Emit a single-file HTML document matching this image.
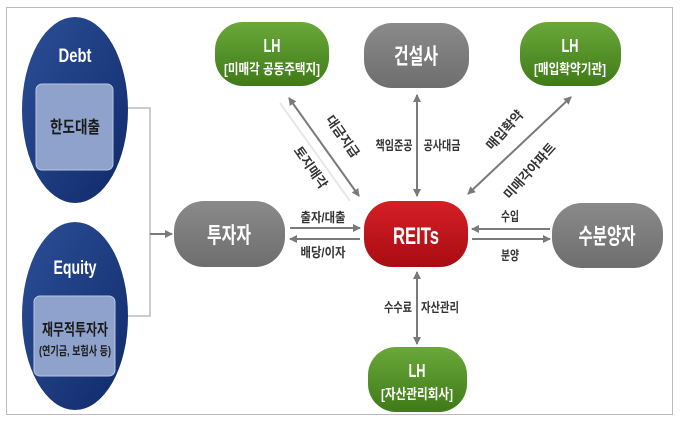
<!DOCTYPE html>
<html><head><meta charset="utf-8"><style>
body{margin:0;background:#fff;}
svg text{font-family:"Liberation Sans","Noto Sans CJK KR",sans-serif;font-weight:bold;}
</style></head><body>
<svg width="680" height="422" viewBox="0 0 680 422" xmlns="http://www.w3.org/2000/svg">
<defs>
<linearGradient id="nv" x1="0" y1="0" x2="1" y2="1"><stop offset="0" stop-color="#2c4f98"/><stop offset="1" stop-color="#102a6a"/></linearGradient>
<linearGradient id="gr" x1="0" y1="0" x2="0" y2="1"><stop offset="0" stop-color="#8a8a8a"/><stop offset="1" stop-color="#6e6e6e"/></linearGradient>
<linearGradient id="gn" x1="0" y1="0" x2="0" y2="1"><stop offset="0" stop-color="#6aa83a"/><stop offset="1" stop-color="#3f7a18"/></linearGradient>
<linearGradient id="rd" x1="0" y1="0" x2="0" y2="1"><stop offset="0" stop-color="#d42026"/><stop offset="1" stop-color="#a80c12"/></linearGradient>
<marker id="ah" markerWidth="8" markerHeight="8" refX="7" refY="4" orient="auto" markerUnits="userSpaceOnUse"><path d="M0,0 L8,4 L0,8 z" fill="#7a7a7a"/></marker>
<marker id="as" markerWidth="8" markerHeight="8" refX="1" refY="4" orient="auto" markerUnits="userSpaceOnUse"><path d="M8,0 L0,4 L8,8 z" fill="#7a7a7a"/></marker>
</defs>
<rect x="6.5" y="7.5" width="666" height="407" fill="none" stroke="#777" stroke-dasharray="1,1"/>

<ellipse cx="75" cy="110" rx="53" ry="93" fill="url(#nv)"/>
<text x="75" y="62" font-size="19" fill="#fff" text-anchor="middle" textLength="33" lengthAdjust="spacingAndGlyphs">Debt</text>
<rect x="36" y="84" width="77" height="86" rx="6" fill="#8ea2cc" stroke="#b8c6e2"/>
<text x="75" y="133" font-size="17" fill="#1a1a1a" text-anchor="middle" textLength="50" lengthAdjust="spacingAndGlyphs">한도대출</text>

<ellipse cx="75" cy="316" rx="53" ry="94" fill="url(#nv)"/>
<text x="75" y="274" font-size="19" fill="#fff" text-anchor="middle" textLength="43" lengthAdjust="spacingAndGlyphs">Equity</text>
<rect x="34" y="296" width="81" height="80" rx="6" fill="#8ea2cc" stroke="#b8c6e2"/>
<text x="75" y="335" font-size="16" fill="#1a1a1a" text-anchor="middle" textLength="66" lengthAdjust="spacingAndGlyphs">재무적투자자</text>
<text x="75" y="355" font-size="12" fill="#1a1a1a" text-anchor="middle" textLength="72" lengthAdjust="spacingAndGlyphs">(연기금, 보험사 등)</text>

<path d="M128,108 H150 V316 H128" fill="none" stroke="#bbb" stroke-width="1.5"/>
<line x1="150" y1="234" x2="172" y2="234" stroke="#7a7a7a" stroke-width="2" marker-end="url(#ah)"/>

<rect x="174" y="201" width="111" height="66" rx="30" fill="url(#gr)"/>
<text x="229" y="243" font-size="22" fill="#fff" text-anchor="middle" textLength="44" lengthAdjust="spacingAndGlyphs">투자자</text>
<rect x="364" y="201" width="104" height="66" rx="28" fill="url(#rd)"/>
<text x="416" y="244" font-size="24" fill="#fff" text-anchor="middle" textLength="46" lengthAdjust="spacingAndGlyphs">REITs</text>
<rect x="552" y="203" width="111" height="65" rx="30" fill="url(#gr)"/>
<text x="607" y="244" font-size="22" fill="#fff" text-anchor="middle" textLength="57" lengthAdjust="spacingAndGlyphs">수분양자</text>
<rect x="364" y="23" width="105" height="65" rx="28" fill="url(#gr)"/>
<text x="416" y="64" font-size="22" fill="#fff" text-anchor="middle" textLength="44" lengthAdjust="spacingAndGlyphs">건설사</text>
<rect x="215" y="22" width="114" height="64" rx="28" fill="url(#gn)"/>
<text x="272" y="52" font-size="18" fill="#fff" text-anchor="middle" textLength="17" lengthAdjust="spacingAndGlyphs">LH</text>
<text x="272" y="74" font-size="14" fill="#fff" text-anchor="middle" textLength="96" lengthAdjust="spacingAndGlyphs">[미매각 공동주택지]</text>
<rect x="520" y="22" width="101" height="64" rx="28" fill="url(#gn)"/>
<text x="570" y="52" font-size="18" fill="#fff" text-anchor="middle" textLength="17" lengthAdjust="spacingAndGlyphs">LH</text>
<text x="570" y="74" font-size="14" fill="#fff" text-anchor="middle" textLength="72" lengthAdjust="spacingAndGlyphs">[매입확약기관]</text>
<rect x="368" y="347" width="99" height="65" rx="28" fill="url(#gn)"/>
<text x="417" y="377" font-size="18" fill="#fff" text-anchor="middle" textLength="17" lengthAdjust="spacingAndGlyphs">LH</text>
<text x="417" y="399" font-size="14" fill="#fff" text-anchor="middle" textLength="72" lengthAdjust="spacingAndGlyphs">[자산관리회사]</text>

<g stroke="#7a7a7a" stroke-width="2" fill="none">
<line x1="289" y1="98" x2="359" y2="196" marker-start="url(#as)" marker-end="url(#ah)"/>
<line x1="417" y1="95" x2="417" y2="196" marker-start="url(#as)" marker-end="url(#ah)"/>
<line x1="571" y1="97" x2="468" y2="194" marker-start="url(#as)" marker-end="url(#ah)"/>
<line x1="290" y1="228" x2="360" y2="228" marker-end="url(#ah)"/>
<line x1="360" y1="239" x2="290" y2="239" marker-end="url(#ah)"/>
<line x1="550" y1="229" x2="472" y2="229" marker-end="url(#ah)"/>
<line x1="472" y1="239" x2="550" y2="239" marker-end="url(#ah)"/>
<line x1="417" y1="272" x2="417" y2="344" marker-start="url(#as)" marker-end="url(#ah)"/>
</g>
<line x1="280" y1="103" x2="350" y2="201" stroke="#e8e8e8" stroke-width="2"/>

<g font-size="13" fill="#333" text-anchor="middle">
<text transform="translate(339,139) rotate(55)" textLength="48" lengthAdjust="spacingAndGlyphs">대금지급</text>
<text transform="translate(307,170) rotate(55)" textLength="48" lengthAdjust="spacingAndGlyphs">토지매각</text>
<text transform="translate(508,133) rotate(-48)" textLength="48" lengthAdjust="spacingAndGlyphs">매입확약</text>
<text transform="translate(533,174) rotate(-48)" textLength="70" lengthAdjust="spacingAndGlyphs">미매각아파트</text>
<text x="394" y="150" textLength="37" lengthAdjust="spacingAndGlyphs">책임준공</text>
<text x="442" y="150" textLength="37" lengthAdjust="spacingAndGlyphs">공사대금</text>
<text x="323" y="222" textLength="45" lengthAdjust="spacingAndGlyphs">출자/대출</text>
<text x="323" y="257" textLength="45" lengthAdjust="spacingAndGlyphs">배당/이자</text>
<text x="510" y="221" textLength="18" lengthAdjust="spacingAndGlyphs">수입</text>
<text x="510" y="260" textLength="18" lengthAdjust="spacingAndGlyphs">분양</text>
<text x="398" y="312" textLength="28" lengthAdjust="spacingAndGlyphs">수수료</text>
<text x="440" y="312" textLength="38" lengthAdjust="spacingAndGlyphs">자산관리</text>
</g>
</svg>
</body></html>
